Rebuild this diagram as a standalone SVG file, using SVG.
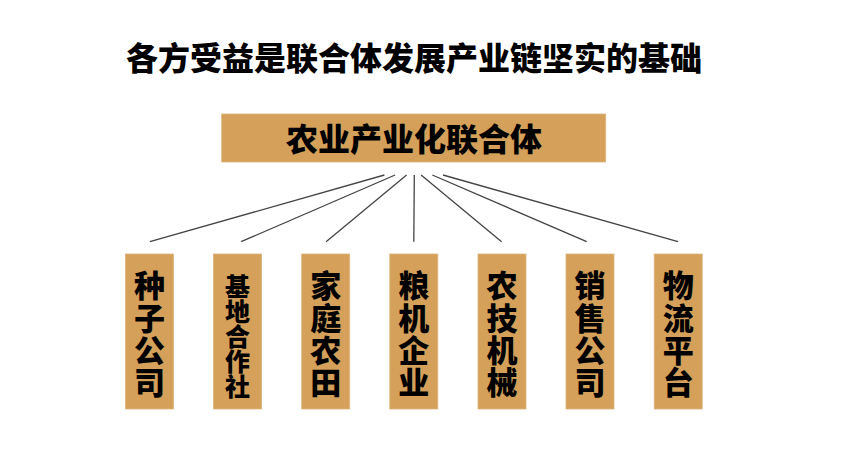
<svg xmlns="http://www.w3.org/2000/svg" width="850" height="466" viewBox="0 0 850 466">
<style>
.t{font-family:"Noto Sans CJK SC","Noto Sans",sans-serif;font-weight:900;fill:#000;text-anchor:middle}
.vt{font-family:"Noto Sans CJK SC","Noto Sans",sans-serif;font-weight:900;fill:#000;writing-mode:vertical-rl;text-orientation:upright}
.box{fill:#D4A05A;stroke:#DDB57A;stroke-width:0.8}
.ln{stroke:#444;stroke-width:1.3;fill:none}
.v{font-size:31px;letter-spacing:1.3px}
.v5{font-size:25px;letter-spacing:0.2px}
</style>
<rect width="850" height="466" fill="#fff"/>
<g id="title"><text class="t" x="414" y="69.5" font-size="32">各方受益是联合体发展产业链坚实的基础</text></g>
<g id="root">
<rect class="box" x="221.7" y="114" width="384" height="48"/>
<text class="t" x="414" y="151" font-size="32">农业产业化联合体</text>
</g>
<g id="connectors">
<line class="ln" x1="384.4" y1="175" x2="149.9" y2="241.7"/>
<line class="ln" x1="395.1" y1="175" x2="241.1" y2="241.7"/>
<line class="ln" x1="406.6" y1="175" x2="326.1" y2="241.7"/>
<line class="ln" x1="414.3" y1="175" x2="413.8" y2="241.7"/>
<line class="ln" x1="421.1" y1="175" x2="501.6" y2="241.7"/>
<line class="ln" x1="432.3" y1="175" x2="586.7" y2="241.7"/>
<line class="ln" x1="443" y1="175" x2="677.9" y2="241.7"/>
</g>
<g id="n1"><rect class="box" x="125.4" y="254" width="48" height="155"/>
<text class="vt v" x="149.4" y="270.2">种子公司</text></g>
<g id="n2"><rect class="box" x="213.5" y="254" width="48" height="155"/>
<text class="vt v5" x="237.5" y="273.5">基地合作社</text></g>
<g id="n3"><rect class="box" x="301.7" y="254" width="48" height="155"/>
<text class="vt v" x="325.7" y="270.2">家庭农田</text></g>
<g id="n4"><rect class="box" x="389.8" y="254" width="48" height="155"/>
<text class="vt v" x="413.8" y="270.2">粮机企业</text></g>
<g id="n5"><rect class="box" x="478" y="254" width="48" height="155"/>
<text class="vt v" x="502" y="270.2">农技机械</text></g>
<g id="n6"><rect class="box" x="566" y="254" width="48" height="155"/>
<text class="vt v" x="590" y="270.2">销售公司</text></g>
<g id="n7"><rect class="box" x="654.2" y="254" width="48" height="155"/>
<text class="vt v" x="678.2" y="270.2">物流平台</text></g>
</svg>
